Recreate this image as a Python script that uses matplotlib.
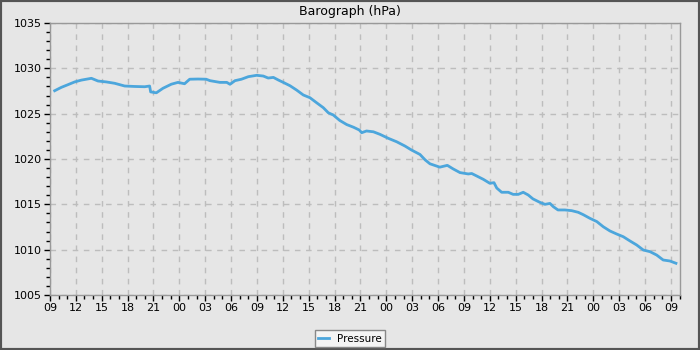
import matplotlib
matplotlib.use("Agg")
import matplotlib.pyplot as plt
import matplotlib.patches as mpatches
import numpy as np

# hours since 09:00 on day 1
hours = [0.54, 1.31, 2.09, 2.86, 3.63, 4.8, 5.57, 6.53, 7.5, 8.66, 9.8, 10.98,
         11.55, 11.67, 12.33, 13.1, 14.07, 14.84, 15.6, 16.2, 17.16, 18.1,
         18.55, 19.7, 20.5, 20.87, 21.45, 22.2, 23.0, 23.96, 24.73, 25.3,
         25.9, 26.5, 27.05, 27.83, 28.6, 29.37, 30.14, 30.92, 31.69, 32.27,
         32.85, 33.6, 34.4, 35.2, 35.86, 36.14, 36.7, 37.5, 38.26, 39.23,
         40.2, 41.16, 41.9, 42.9, 43.5, 44.06, 45.2, 46.07, 46.76, 47.54,
         48.5, 48.9, 49.47, 50.24, 51.0, 51.48, 51.8, 52.37, 53.14, 53.7,
         54.3, 54.87, 55.45, 56.0, 56.8, 57.4, 57.97, 58.36, 58.9, 59.7,
         60.5, 61.25, 61.83, 62.6, 63.4, 64.15, 64.93, 65.7, 66.47, 67.25,
         68.02, 68.8, 69.57, 70.34, 71.1, 71.88, 72.58]
pressure = [1027.53, 1027.9, 1028.2, 1028.5, 1028.7, 1028.9, 1028.6, 1028.5,
            1028.35, 1028.05, 1028.0, 1027.97, 1028.05, 1027.4, 1027.3,
            1027.8, 1028.25, 1028.45, 1028.3, 1028.8, 1028.82, 1028.8,
            1028.64, 1028.45, 1028.45, 1028.24, 1028.64, 1028.8, 1029.08,
            1029.23, 1029.15, 1028.93, 1029.0, 1028.7, 1028.45, 1028.08,
            1027.6, 1027.06, 1026.76, 1026.2, 1025.66, 1025.1, 1024.85,
            1024.25, 1023.8, 1023.5, 1023.2, 1022.9, 1023.09, 1023.0,
            1022.72, 1022.28, 1021.9, 1021.43, 1021.0, 1020.5, 1019.9,
            1019.47, 1019.1, 1019.3, 1018.9, 1018.5, 1018.35, 1018.4,
            1018.13, 1017.76, 1017.32, 1017.39, 1016.8, 1016.33, 1016.33,
            1016.1, 1016.1, 1016.33, 1016.03, 1015.6, 1015.22, 1015.0,
            1015.1, 1014.74, 1014.38, 1014.38, 1014.3, 1014.12, 1013.86,
            1013.46, 1013.1, 1012.53, 1012.06, 1011.73, 1011.43, 1010.96,
            1010.52, 1009.96, 1009.78, 1009.41, 1008.86, 1008.75, 1008.5]

bg = "#e6e6e6"
line_col = "#4ca6dc"

fig = plt.figure(figsize=(7, 3.5), dpi=100, facecolor=bg)
ax = fig.add_axes([50/700, 1-295/350, 630/700, 272/350])
ax.set_facecolor(bg)

ax.plot(hours, pressure, color=line_col, lw=2, label="Pressure")

ax.set_xlim(0, 73.05)
ax.set_ylim(1005, 1035)
ax.set_yticks(np.arange(1005, 1036, 5))
ax.set_yticks(np.arange(1005, 1036, 1), minor=True)
xt = np.arange(0, 73, 3)
ax.set_xticks(xt)
ax.set_xticklabels(["%02d" % ((9 + int(h)) % 24) for h in xt])
ax.set_xticks(np.arange(0, 74, 1), minor=True)

ax.tick_params(which="major", direction="out", length=4, width=1,
               color="black", labelsize=8, pad=2)
ax.tick_params(which="minor", direction="out", length=3, width=1, color="black")
for s in ax.spines.values():
    s.set_color("#999999")
    s.set_linewidth(1)

ax.grid(True, which="major", color="#bdbdbd", ls=(0, (4, 4)), lw=1)
ax.set_axisbelow(True)

fig.text(0.5, 1-11/350, "Barograph (hPa)", ha="center", va="center", fontsize=9)

leg = fig.legend(loc="center", bbox_to_anchor=(350/700, 1-338.5/350),
                 fontsize=7.5, frameon=True, fancybox=False,
                 handlelength=1.0, borderpad=0.35, handletextpad=0.8)
leg.get_frame().set_facecolor("#f4f4f4")
leg.get_frame().set_edgecolor("#888888")
leg.get_frame().set_linewidth(1)
leg.get_frame().set_alpha(1)

fig.patches.append(mpatches.Rectangle((0, 0), 1, 1, transform=fig.transFigure,
                                      fill=False, edgecolor="#555555", lw=3))

fig.savefig("out.png", dpi=100, facecolor=bg)
